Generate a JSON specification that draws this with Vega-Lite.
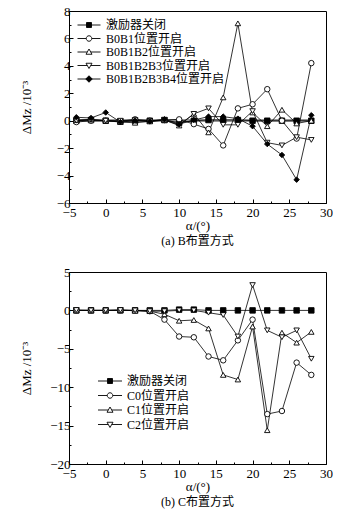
{
  "$schema": "https://vega.github.io/schema/vega-lite/v6.json",
  "padding": {"left": 19, "top": 4, "right": 0, "bottom": 0},
  "spacing": 17,
  "resolve": {"scale": {"shape": "independent", "fill": "independent"}, "legend": {"shape": "independent", "fill": "independent"}},
  "config": {
    "font": "Liberation Serif, Noto Sans CJK SC",
    "view": {"stroke": "black", "strokeWidth": 1},
    "axis": {"labelFont": "Liberation Serif", "labelFontSize": 13, "labelColor": "black", "titleFont": "Liberation Serif", "titleFontSize": 13, "titleFontWeight": "normal", "titleColor": "black", "domainColor": "black", "tickColor": "black", "labelPadding": 3, "grid": false, "labelOverlap": false, "labelFlush": false},
    "legend": {"labelFont": "Liberation Serif, Noto Sans CJK SC", "labelFontSize": 12, "labelColor": "black", "padding": 0, "symbolSize": 100, "symbolStrokeWidth": 0.9, "labelOffset": 11, "symbolOpacity": 1},
    "title": {"font": "Liberation Serif, Noto Sans CJK SC", "fontSize": 12, "fontWeight": "normal", "color": "black"}
  },
  "datasets": {
    "a": [
      {"alpha": -4, "dM": 0, "series": "激励器关闭"}, {"alpha": -2, "dM": 0.05, "series": "激励器关闭"}, {"alpha": 0, "dM": 0, "series": "激励器关闭"}, {"alpha": 2, "dM": -0.05, "series": "激励器关闭"}, {"alpha": 4, "dM": 0, "series": "激励器关闭"}, {"alpha": 6, "dM": 0, "series": "激励器关闭"}, {"alpha": 8, "dM": 0.05, "series": "激励器关闭"}, {"alpha": 10, "dM": -0.15, "series": "激励器关闭"}, {"alpha": 12, "dM": 0, "series": "激励器关闭"}, {"alpha": 14, "dM": 0.05, "series": "激励器关闭"}, {"alpha": 16, "dM": 0.05, "series": "激励器关闭"}, {"alpha": 18, "dM": 0.05, "series": "激励器关闭"}, {"alpha": 20, "dM": 0, "series": "激励器关闭"}, {"alpha": 22, "dM": 0, "series": "激励器关闭"}, {"alpha": 24, "dM": 0, "series": "激励器关闭"}, {"alpha": 26, "dM": 0, "series": "激励器关闭"}, {"alpha": 28, "dM": 0, "series": "激励器关闭"},
      {"alpha": -4, "dM": -0.1, "series": "B0B1位置开启"}, {"alpha": -2, "dM": 0, "series": "B0B1位置开启"}, {"alpha": 0, "dM": 0, "series": "B0B1位置开启"}, {"alpha": 2, "dM": -0.05, "series": "B0B1位置开启"}, {"alpha": 4, "dM": 0.1, "series": "B0B1位置开启"}, {"alpha": 6, "dM": 0, "series": "B0B1位置开启"}, {"alpha": 8, "dM": 0.05, "series": "B0B1位置开启"}, {"alpha": 10, "dM": 0.1, "series": "B0B1位置开启"}, {"alpha": 12, "dM": -0.25, "series": "B0B1位置开启"}, {"alpha": 14, "dM": -0.6, "series": "B0B1位置开启"}, {"alpha": 16, "dM": -1.8, "series": "B0B1位置开启"}, {"alpha": 18, "dM": 0.9, "series": "B0B1位置开启"}, {"alpha": 20, "dM": 1.2, "series": "B0B1位置开启"}, {"alpha": 22, "dM": 2.3, "series": "B0B1位置开启"}, {"alpha": 24, "dM": 0, "series": "B0B1位置开启"}, {"alpha": 26, "dM": -1.3, "series": "B0B1位置开启"}, {"alpha": 28, "dM": 4.2, "series": "B0B1位置开启"},
      {"alpha": -4, "dM": 0.05, "series": "B0B1B2位置开启"}, {"alpha": -2, "dM": 0.1, "series": "B0B1B2位置开启"}, {"alpha": 0, "dM": 0, "series": "B0B1B2位置开启"}, {"alpha": 2, "dM": -0.1, "series": "B0B1B2位置开启"}, {"alpha": 4, "dM": -0.15, "series": "B0B1B2位置开启"}, {"alpha": 6, "dM": -0.05, "series": "B0B1B2位置开启"}, {"alpha": 8, "dM": 0.05, "series": "B0B1B2位置开启"}, {"alpha": 10, "dM": -0.35, "series": "B0B1B2位置开启"}, {"alpha": 12, "dM": 0.5, "series": "B0B1B2位置开启"}, {"alpha": 14, "dM": -0.85, "series": "B0B1B2位置开启"}, {"alpha": 16, "dM": 1.7, "series": "B0B1B2位置开启"}, {"alpha": 18, "dM": 7.1, "series": "B0B1B2位置开启"}, {"alpha": 20, "dM": 0.6, "series": "B0B1B2位置开启"}, {"alpha": 22, "dM": -0.4, "series": "B0B1B2位置开启"}, {"alpha": 24, "dM": 0.8, "series": "B0B1B2位置开启"}, {"alpha": 26, "dM": -0.2, "series": "B0B1B2位置开启"}, {"alpha": 28, "dM": 0, "series": "B0B1B2位置开启"},
      {"alpha": -4, "dM": 0, "series": "B0B1B2B3位置开启"}, {"alpha": -2, "dM": 0.05, "series": "B0B1B2B3位置开启"}, {"alpha": 0, "dM": 0, "series": "B0B1B2B3位置开启"}, {"alpha": 2, "dM": 0, "series": "B0B1B2B3位置开启"}, {"alpha": 4, "dM": 0.05, "series": "B0B1B2B3位置开启"}, {"alpha": 6, "dM": -0.05, "series": "B0B1B2B3位置开启"}, {"alpha": 8, "dM": 0.05, "series": "B0B1B2B3位置开启"}, {"alpha": 10, "dM": -0.3, "series": "B0B1B2B3位置开启"}, {"alpha": 12, "dM": 0.5, "series": "B0B1B2B3位置开启"}, {"alpha": 14, "dM": 0.9, "series": "B0B1B2B3位置开启"}, {"alpha": 16, "dM": -0.3, "series": "B0B1B2B3位置开启"}, {"alpha": 18, "dM": -0.3, "series": "B0B1B2B3位置开启"}, {"alpha": 20, "dM": 0.7, "series": "B0B1B2B3位置开启"}, {"alpha": 22, "dM": -1.6, "series": "B0B1B2B3位置开启"}, {"alpha": 24, "dM": -1.8, "series": "B0B1B2B3位置开启"}, {"alpha": 26, "dM": -1.2, "series": "B0B1B2B3位置开启"}, {"alpha": 28, "dM": -1.4, "series": "B0B1B2B3位置开启"},
      {"alpha": -4, "dM": 0.25, "series": "B0B1B2B3B4位置开启"}, {"alpha": -2, "dM": 0.2, "series": "B0B1B2B3B4位置开启"}, {"alpha": 0, "dM": 0.6, "series": "B0B1B2B3B4位置开启"}, {"alpha": 2, "dM": -0.1, "series": "B0B1B2B3B4位置开启"}, {"alpha": 4, "dM": 0, "series": "B0B1B2B3B4位置开启"}, {"alpha": 6, "dM": -0.05, "series": "B0B1B2B3B4位置开启"}, {"alpha": 8, "dM": 0.1, "series": "B0B1B2B3B4位置开启"}, {"alpha": 10, "dM": -0.25, "series": "B0B1B2B3B4位置开启"}, {"alpha": 12, "dM": 0.05, "series": "B0B1B2B3B4位置开启"}, {"alpha": 14, "dM": 0.3, "series": "B0B1B2B3B4位置开启"}, {"alpha": 16, "dM": 0.3, "series": "B0B1B2B3B4位置开启"}, {"alpha": 18, "dM": 0.15, "series": "B0B1B2B3B4位置开启"}, {"alpha": 20, "dM": -0.4, "series": "B0B1B2B3B4位置开启"}, {"alpha": 22, "dM": -1.7, "series": "B0B1B2B3B4位置开启"}, {"alpha": 24, "dM": -2.5, "series": "B0B1B2B3B4位置开启"}, {"alpha": 26, "dM": -4.3, "series": "B0B1B2B3B4位置开启"}, {"alpha": 28, "dM": 0.4, "series": "B0B1B2B3B4位置开启"}
    ],
    "b": [
      {"alpha": -4, "dM": 0, "series": "激励器关闭"}, {"alpha": -2, "dM": 0, "series": "激励器关闭"}, {"alpha": 0, "dM": 0, "series": "激励器关闭"}, {"alpha": 2, "dM": 0, "series": "激励器关闭"}, {"alpha": 4, "dM": 0, "series": "激励器关闭"}, {"alpha": 6, "dM": 0, "series": "激励器关闭"}, {"alpha": 8, "dM": 0, "series": "激励器关闭"}, {"alpha": 10, "dM": 0.1, "series": "激励器关闭"}, {"alpha": 12, "dM": 0.1, "series": "激励器关闭"}, {"alpha": 14, "dM": 0, "series": "激励器关闭"}, {"alpha": 16, "dM": 0, "series": "激励器关闭"}, {"alpha": 18, "dM": 0, "series": "激励器关闭"}, {"alpha": 20, "dM": 0, "series": "激励器关闭"}, {"alpha": 22, "dM": 0, "series": "激励器关闭"}, {"alpha": 24, "dM": 0, "series": "激励器关闭"}, {"alpha": 26, "dM": 0, "series": "激励器关闭"}, {"alpha": 28, "dM": 0, "series": "激励器关闭"},
      {"alpha": -4, "dM": 0, "series": "C0位置开启"}, {"alpha": -2, "dM": 0, "series": "C0位置开启"}, {"alpha": 0, "dM": 0, "series": "C0位置开启"}, {"alpha": 2, "dM": 0, "series": "C0位置开启"}, {"alpha": 4, "dM": 0, "series": "C0位置开启"}, {"alpha": 6, "dM": -0.1, "series": "C0位置开启"}, {"alpha": 8, "dM": -1.2, "series": "C0位置开启"}, {"alpha": 10, "dM": -3.4, "series": "C0位置开启"}, {"alpha": 12, "dM": -3.5, "series": "C0位置开启"}, {"alpha": 14, "dM": -6.0, "series": "C0位置开启"}, {"alpha": 16, "dM": -6.5, "series": "C0位置开启"}, {"alpha": 18, "dM": -3.9, "series": "C0位置开启"}, {"alpha": 20, "dM": -1.2, "series": "C0位置开启"}, {"alpha": 22, "dM": -13.5, "series": "C0位置开启"}, {"alpha": 24, "dM": -13.1, "series": "C0位置开启"}, {"alpha": 26, "dM": -6.8, "series": "C0位置开启"}, {"alpha": 28, "dM": -8.4, "series": "C0位置开启"},
      {"alpha": -4, "dM": 0, "series": "C1位置开启"}, {"alpha": -2, "dM": 0, "series": "C1位置开启"}, {"alpha": 0, "dM": 0, "series": "C1位置开启"}, {"alpha": 2, "dM": 0.05, "series": "C1位置开启"}, {"alpha": 4, "dM": -0.05, "series": "C1位置开启"}, {"alpha": 6, "dM": -0.1, "series": "C1位置开启"}, {"alpha": 8, "dM": -0.5, "series": "C1位置开启"}, {"alpha": 10, "dM": -1.35, "series": "C1位置开启"}, {"alpha": 12, "dM": -1.25, "series": "C1位置开启"}, {"alpha": 14, "dM": -2.35, "series": "C1位置开启"}, {"alpha": 16, "dM": -8.4, "series": "C1位置开启"}, {"alpha": 18, "dM": -9.0, "series": "C1位置开启"}, {"alpha": 20, "dM": -2.1, "series": "C1位置开启"}, {"alpha": 22, "dM": -15.6, "series": "C1位置开启"}, {"alpha": 24, "dM": -2.9, "series": "C1位置开启"}, {"alpha": 26, "dM": -4.2, "series": "C1位置开启"}, {"alpha": 28, "dM": -2.8, "series": "C1位置开启"},
      {"alpha": -4, "dM": 0.05, "series": "C2位置开启"}, {"alpha": -2, "dM": 0, "series": "C2位置开启"}, {"alpha": 0, "dM": 0, "series": "C2位置开启"}, {"alpha": 2, "dM": 0.05, "series": "C2位置开启"}, {"alpha": 4, "dM": 0, "series": "C2位置开启"}, {"alpha": 6, "dM": -0.1, "series": "C2位置开启"}, {"alpha": 8, "dM": -0.1, "series": "C2位置开启"}, {"alpha": 10, "dM": 0, "series": "C2位置开启"}, {"alpha": 12, "dM": 0, "series": "C2位置开启"}, {"alpha": 14, "dM": -0.3, "series": "C2位置开启"}, {"alpha": 16, "dM": -0.6, "series": "C2位置开启"}, {"alpha": 18, "dM": -3.4, "series": "C2位置开启"}, {"alpha": 20, "dM": 3.3, "series": "C2位置开启"}, {"alpha": 22, "dM": -2.6, "series": "C2位置开启"}, {"alpha": 24, "dM": -3.5, "series": "C2位置开启"}, {"alpha": 26, "dM": -2.6, "series": "C2位置开启"}, {"alpha": 28, "dM": -6.3, "series": "C2位置开启"}
    ]
  },
  "vconcat": [
    {
      "width": 257, "height": 192,
      "data": {"name": "a"},
      "title": {"text": "(a) B布置方式", "orient": "bottom", "anchor": "middle", "offset": 4},
      "resolve": {"scale": {"shape": "independent", "fill": "independent"}, "axis": {"x": "independent", "y": "independent"}},
      "layer": [
        {"mark": {"type": "rule", "color": "#999999", "strokeWidth": 2}, "encoding": {"x": {"datum": -4, "type": "quantitative", "axis": null}, "x2": {"datum": 28}, "y": {"datum": 0, "type": "quantitative", "axis": null}}},
        {"mark": {"type": "line", "color": "black", "strokeWidth": 0.8}, "encoding": {
          "x": {"field": "alpha", "type": "quantitative", "scale": {"domain": [-5, 30], "nice": false}, "axis": {"title": "α/(°)", "values": [-5, 0, 5, 10, 15, 20, 25, 30], "tickSize": -4, "labelPadding": 7, "labelOverlap": false, "titlePadding": 0}},
          "y": {"field": "dM", "type": "quantitative", "scale": {"domain": [-6, 8], "nice": false}, "axis": {"title": "ΔMz /10⁻³", "values": [-6, -4, -2, 0, 2, 4, 6, 8], "tickSize": -4, "labelOverlap": false, "titleX": -36}},
          "detail": {"field": "series"}}},
        {"mark": {"type": "point", "filled": true, "stroke": "black", "strokeWidth": 0.9, "size": 30, "opacity": 1}, "encoding": {
          "x": {"field": "alpha", "type": "quantitative", "axis": {"orient": "bottom", "values": [-2.5, 2.5, 7.5, 12.5, 17.5, 22.5, 27.5], "labels": false, "domain": false, "title": null, "tickSize": -2}},
          "y": {"field": "dM", "type": "quantitative", "axis": {"orient": "left", "values": [-5, -3, -1, 1, 3, 5, 7], "labels": false, "domain": false, "title": null, "tickSize": -2}},
          "shape": {"field": "series", "type": "nominal", "scale": {"domain": ["激励器关闭", "B0B1位置开启", "B0B1B2位置开启", "B0B1B2B3位置开启", "B0B1B2B3B4位置开启"], "range": ["square", "circle", "triangle-up", "triangle-down", "diamond"]}, "legend": null},
          "fill": {"field": "series", "type": "nominal", "scale": {"domain": ["激励器关闭", "B0B1位置开启", "B0B1B2位置开启", "B0B1B2B3位置开启", "B0B1B2B3B4位置开启"], "range": ["black", "white", "white", "white", "black"]}, "legend": null}}},
        {"mark": {"type": "point", "filled": true, "stroke": "black", "strokeWidth": 0.9, "opacity": 0}, "encoding": {
          "x": {"field": "alpha", "type": "quantitative", "axis": null},
          "y": {"field": "dM", "type": "quantitative", "axis": null},
          "shape": {"field": "series", "type": "nominal", "scale": {"domain": ["激励器关闭", "B0B1位置开启", "B0B1B2位置开启", "B0B1B2B3位置开启", "B0B1B2B3B4位置开启"], "range": ["M-2.3,0H2.3M-0.5,-0.5H0.5V0.5H-0.5Z", "M-2.3,0H-0.55M0.55,0H2.3M-0.55,0A0.55,0.55 0 1,0 0.55,0A0.55,0.55 0 1,0 -0.55,0Z", "M-2.3,0H-0.35M0.35,0H2.3M0,-0.6L0.6,0.45H-0.6Z", "M-2.3,0H-0.35M0.35,0H2.3M0,0.6L0.6,-0.45H-0.6Z", "M-2.3,0H2.3M0,-0.65L0.65,0L0,0.65L-0.65,0Z"]}, "legend": {"title": null, "orient": "none", "legendX": 14, "legendY": 8, "rowPadding": 1.5, "symbolOpacity": 1}},
          "fill": {"field": "series", "type": "nominal", "scale": {"domain": ["激励器关闭", "B0B1位置开启", "B0B1B2位置开启", "B0B1B2B3位置开启", "B0B1B2B3B4位置开启"], "range": ["black", "white", "white", "white", "black"]}, "legend": {"title": null, "orient": "none", "legendX": 14, "legendY": 8, "rowPadding": 1.5, "symbolOpacity": 1}}}}
      ]
    },
    {
      "width": 257, "height": 192,
      "data": {"name": "b"},
      "title": {"text": "(b) C布置方式", "orient": "bottom", "anchor": "middle", "offset": 4},
      "resolve": {"scale": {"shape": "independent", "fill": "independent"}, "axis": {"x": "independent", "y": "independent"}},
      "layer": [
        {"mark": {"type": "line", "color": "black", "strokeWidth": 0.8}, "encoding": {
          "x": {"field": "alpha", "type": "quantitative", "scale": {"domain": [-5, 30], "nice": false}, "axis": {"title": "α/(°)", "values": [-5, 0, 5, 10, 15, 20, 25, 30], "tickSize": -4, "labelPadding": 7, "labelOverlap": false, "titlePadding": 0}},
          "y": {"field": "dM", "type": "quantitative", "scale": {"domain": [-20, 5], "nice": false}, "axis": {"title": "ΔMz /10⁻³", "values": [-20, -15, -10, -5, 0, 5], "tickSize": -4, "labelOverlap": false, "titleX": -36}},
          "detail": {"field": "series"}}},
        {"mark": {"type": "point", "filled": true, "stroke": "black", "strokeWidth": 0.9, "size": 30, "opacity": 1}, "encoding": {
          "x": {"field": "alpha", "type": "quantitative", "axis": {"orient": "bottom", "values": [-2.5, 2.5, 7.5, 12.5, 17.5, 22.5, 27.5], "labels": false, "domain": false, "title": null, "tickSize": -2}},
          "y": {"field": "dM", "type": "quantitative", "axis": {"orient": "left", "values": [-17.5, -12.5, -7.5, -2.5, 2.5], "labels": false, "domain": false, "title": null, "tickSize": -2}},
          "shape": {"field": "series", "type": "nominal", "scale": {"domain": ["激励器关闭", "C0位置开启", "C1位置开启", "C2位置开启"], "range": ["square", "circle", "triangle-up", "triangle-down"]}, "legend": null},
          "fill": {"field": "series", "type": "nominal", "scale": {"domain": ["激励器关闭", "C0位置开启", "C1位置开启", "C2位置开启"], "range": ["black", "white", "white", "white"]}, "legend": null}}},
        {"mark": {"type": "point", "filled": true, "stroke": "black", "strokeWidth": 0.9, "opacity": 0}, "encoding": {
          "x": {"field": "alpha", "type": "quantitative", "axis": null},
          "y": {"field": "dM", "type": "quantitative", "axis": null},
          "shape": {"field": "series", "type": "nominal", "scale": {"domain": ["激励器关闭", "C0位置开启", "C1位置开启", "C2位置开启"], "range": ["M-2.4,0H2.4M-0.5,-0.5H0.5V0.5H-0.5Z", "M-2.4,0H-0.55M0.55,0H2.4M-0.55,0A0.55,0.55 0 1,0 0.55,0A0.55,0.55 0 1,0 -0.55,0Z", "M-2.4,0H-0.35M0.35,0H2.4M0,-0.6L0.6,0.45H-0.6Z", "M-2.4,0H-0.35M0.35,0H2.4M0,0.6L0.6,-0.45H-0.6Z"]}, "legend": {"title": null, "orient": "none", "legendX": 35, "legendY": 103, "rowPadding": 2.5, "symbolOpacity": 1}},
          "fill": {"field": "series", "type": "nominal", "scale": {"domain": ["激励器关闭", "C0位置开启", "C1位置开启", "C2位置开启"], "range": ["black", "white", "white", "white"]}, "legend": {"title": null, "orient": "none", "legendX": 35, "legendY": 103, "rowPadding": 2.5, "symbolOpacity": 1}}}}
      ]
    }
  ]
}
